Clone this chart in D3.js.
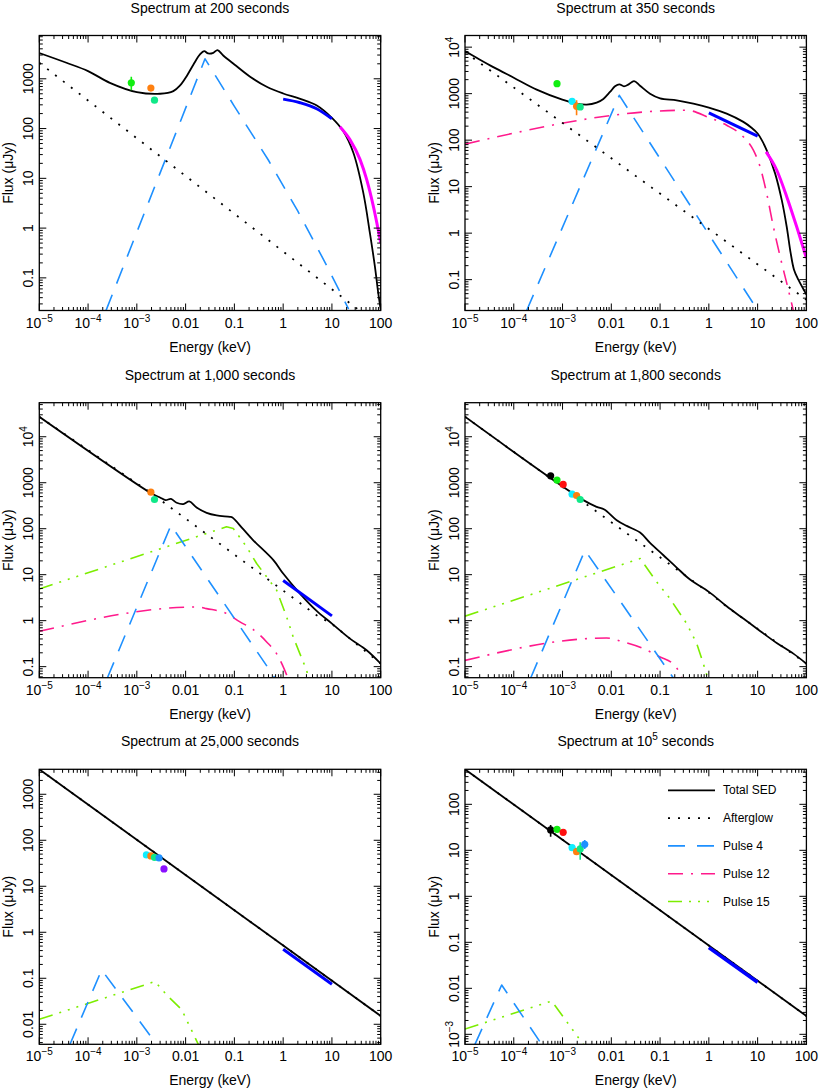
<!DOCTYPE html>
<html>
<head>
<meta charset="utf-8">
<script src="https://cdn.jsdelivr.net/npm/d3@7"></script>
<style>
  body { margin: 0; background: #fff; }
  svg text { font-family: "Liberation Sans", Arial, Helvetica, sans-serif; fill: #000; }
</style>
</head>
<body>
<div id="chart"></div>
<script>
// optical / NIR bands, their energy (keV)
const bands = ['K', 'H', 'J', 'I', 'R', 'V', 'B', 'U'];
const bandEnergy = [5.7e-4, 7.7e-4, 1.03e-3, 1.57e-3, 1.94e-3, 2.3e-3, 2.85e-3, 3.6e-3];

const xTicks = [1e-5, 1e-4, 1e-3, 0.01, 0.1, 1, 10, 100];
const legendNames = ['Total SED', 'Afterglow', 'Pulse 4', 'Pulse 12', 'Pulse 15'];

// ---- 200 s ----
const yRange200 = [0.0221, 7410];
const yTicks200 = [0.1, 1, 10, 100, 1000];
const total200 = [[1e-5, 3300], [3.6e-5, 2100], [1e-4, 1430], [2.8e-4, 830], [1e-3, 540], [3e-3, 500],
  [5.6e-3, 565], [7.7e-3, 735], [0.0105, 1130], [0.0145, 1940], [0.0197, 3080], [0.024, 3600],
  [0.029, 3230], [0.037, 3330], [0.045, 3770], [0.059, 2940], [0.1, 1940], [0.21, 1100], [0.46, 690],
  [1, 507], [2.24, 396], [4.9, 291], [10, 164], [17, 89], [27.5, 32.6], [44, 5.1], [60, 0.8],
  [76, 0.17], [89, 0.05], [100, 0.023]];
const afterglow200 = [[1e-5, 2100], [100, 0.0103]];
const pulse4_200 = [[2.33e-4, 0.022], [0.025, 2520], [0.1, 280], [0.5, 23.1], [2, 2.19], [8, 0.169], [22, 0.0235]];
const xrt200 = [[1, 390], [2.23, 330], [4.87, 250], [10, 157]];
const bat200 = [[14.6, 109], [23.4, 60], [37.6, 24], [51.5, 9.5], [70.6, 2.76], [100, 0.51]];
const optical200 = [['H', 830, 590, 1100], ['R', 650], ['V', 372, 330, 420]];

// ---- 350 s ----
const yRange350 = [0.0217, 17800];
const yTicks350 = [0.1, 1, 10, 100, 1000, 1e4];
const total350 = [[1e-5, 8200], [1.73e-5, 5900], [3.81e-5, 3720], [1e-4, 2200], [2.95e-4, 1220],
  [9.9e-4, 743], [1.95e-3, 611], [3.13e-3, 581], [5e-3, 641], [6.87e-3, 769], [9.4e-3, 1086],
  [0.0119, 1436], [0.0146, 1585], [0.0182, 1436], [0.0227, 1585], [0.0292, 1866], [0.0388, 1483],
  [0.0622, 1000], [0.1, 794], [0.219, 719], [0.481, 611], [1, 501], [2.32, 372], [5.09, 247],
  [7.5, 185], [10, 139], [12.5, 95], [15.3, 61], [22.8, 19.3], [31.2, 5.18], [39.4, 1.39], [47.6, 0.372],
  [55.7, 0.164], [68.4, 0.1], [100, 0.048]];
const afterglow350 = [[1e-5, 7800], [100, 0.037]];
const pulse4_350 = [[1.84e-4, 0.0217], [0.0146, 920], [10, 0.022]];
const pulse12_350 = [[1e-5, 82], [0.35, 440], [1, 306], [2.32, 209], [5.09, 118], [8.18, 61],
  [11.2, 27], [15.3, 7.2], [21, 1.39], [28.8, 0.32], [39.4, 0.085], [54, 0.0217]];
const xrt350 = [[1, 385], [10, 122]];
const bat350 = [[14.9, 56], [24.6, 22.8], [39.5, 6.1], [63, 1.39], [100, 0.29]];
const optical350 = [['H', 1640], ['I', 685], ['R', 535, 343, 720], ['V', 518]];

// ---- 1,000 s ----
const yRange1000 = [0.0575, 55000];
const yTicks1000 = [0.1, 1, 10, 100, 1000, 1e4];
const total1000 = [[1e-5, 27200], [2.01e-3, 583], [2.98e-3, 478], [3.89e-3, 418], [5.01e-3, 447],
  [6.55e-3, 366], [8.97e-3, 342], [0.0119, 391], [0.0168, 289], [0.027, 221], [0.0432, 194],
  [0.0813, 181], [0.0912, 175], [0.15, 99], [0.244, 56], [0.631, 20.7], [1, 10.6], [2.21, 3.88],
  [4.86, 1.63], [10, 0.863], [23.4, 0.407], [51.5, 0.227], [100, 0.116]];
const afterglow1000 = [[1e-5, 27200], [2.01e-3, 583], [4.86, 1.31], [10, 0.85], [100, 0.116]];
const pulse4_1000 = [[2.48e-4, 0.0566], [5.01e-3, 119], [0.68, 0.0566]];
const pulse12_1000 = [[1e-5, 0.587], [0.018, 1.99], [0.027, 1.83], [0.0693, 1.43], [0.13, 0.94],
  [0.244, 0.64], [0.459, 0.345], [0.736, 0.19], [1, 0.1], [1.25, 0.0566]];
const pulse15_1000 = [[1e-5, 4.9], [0.069, 110], [0.095, 101], [0.179, 40], [0.286, 17.5],
  [0.736, 4.6], [1.18, 1.2], [1.61, 0.44], [2.21, 0.19], [3.03, 0.083], [3.3, 0.0575]];
const xrt1000 = [[1, 7.45], [10, 1.27]];
const optical1000 = [['R', 624], ['V', 432]];

// ---- 1,800 s ----
const yRange1800 = [0.0575, 55000];
const yTicks1800 = [0.1, 1, 10, 100, 1000, 1e4];
const total1800 = [[1e-5, 27200], [2.67e-3, 418], [5.01e-3, 299], [7.19e-3, 262], [0.0129, 153],
  [0.0207, 115], [0.0389, 82.6], [0.0622, 49.2], [0.117, 26.5], [0.219, 14.3], [0.411, 7.83],
  [1, 4.23], [2.32, 2.06], [5.09, 1.11], [11.2, 0.598], [24.6, 0.327], [54.1, 0.192], [100, 0.116]];
const afterglow1800 = [[1e-5, 27200], [1, 4.1], [2.32, 2.02], [100, 0.116]];
const pulse4_1800 = [[2.22e-4, 0.0566], [2.88e-3, 34], [0.187, 0.0566]];
const pulse12_1800 = [[1e-5, 0.137], [8e-3, 0.42], [0.0177, 0.344], [0.0454, 0.247], [0.0998, 0.162],
  [0.187, 0.112], [0.256, 0.07], [0.277, 0.0566]];
const pulse15_1800 = [[1e-5, 1.25], [0.039, 22.4], [0.085, 7], [0.16, 3.0], [0.352, 0.86],
  [0.562, 0.32], [0.771, 0.116], [0.946, 0.0566]];
const optical1800 = [['K', 1415], ['H', 1140], ['J', 917], ['I', 565], ['R', 528], ['V', 432]];

// ---- 25,000 s ----
const yRange25k = [0.00367, 3490];
const yTicks25k = [0.01, 0.1, 1, 10, 100, 1000];
const total25k = [[1e-5, 3490], [100, 0.0152]];
const afterglow25k = [[1e-5, 3490], [100, 0.0152]];
const pulse4_25k = [[4.26e-5, 0.00367], [1.9e-4, 0.152], [2.55e-3, 0.00367]];
const pulse15_25k = [[1e-5, 0.0128], [2.35e-3, 0.085], [4.08e-3, 0.0435], [8.3e-3, 0.0208], [0.0182, 0.00367]];
const xrt25k = [[1, 0.427], [10, 0.074]];
const optical25k = [['I', 48], ['R', 45.6], ['V', 42.6], ['B', 41.3], ['U', 23.8]];

// ---- 1e5 s ----
const yRange1e5 = [6.07e-4, 577];
const yTicks1e5 = [1e-3, 0.01, 0.1, 1, 10, 100];
const total1e5 = [[1e-5, 577], [100, 0.0025]];
const afterglow1e5 = [[1e-5, 577], [100, 0.0025]];
const pulse4_1e5 = [[1.6e-5, 6.07e-4], [5.65e-5, 0.0118], [3.73e-4, 6.07e-4]];
const pulse15_1e5 = [[1e-5, 1.3e-3], [6e-4, 5.3e-3], [2.65e-3, 6.07e-4]];
const xrt1e5 = [[1, 0.0766], [10, 0.0135]];
const optical1e5 = [['K', 27.7, 19.8, 35.6], ['H', 28.6], ['J', 24.6], ['I', 11.4], ['R', 9.35],
  ['V', 10.7, 6.2, 14.9], ['B', 13.5, 10.7, 16.8]];

// styles
const bandColor = { K: '#000000', H: '#11ee11', J: '#ff1010', I: '#10eeff', R: '#ff8010', V: '#10e888', B: '#1e90ff', U: '#8a10ff' };
const styles = {
  total: { color: '#000', width: 1.8, dash: null },
  afterglow: { color: '#000', width: 1.8, dash: '2 8' },
  pulse4: { color: '#1e90ff', width: 1.6, dash: '17 12' },
  pulse12: { color: '#ff1a8c', width: 1.6, dash: '15 8 2 8' },
  pulse15: { color: '#7ced00', width: 1.6, dash: '14 7 2 7 2 7 2 7' }
};

const panels = [
  { title: ['Spectrum at 200 seconds'], yRange: yRange200, yTicks: yTicks200, total: total200,
    afterglow: afterglow200, pulse4: pulse4_200, xrt: xrt200, bat: bat200, optical: optical200 },
  { title: ['Spectrum at 350 seconds'], yRange: yRange350, yTicks: yTicks350, total: total350,
    afterglow: afterglow350, pulse4: pulse4_350, pulse12: pulse12_350, xrt: xrt350, bat: bat350, optical: optical350 },
  { title: ['Spectrum at 1,000 seconds'], yRange: yRange1000, yTicks: yTicks1000, total: total1000,
    afterglow: afterglow1000, pulse4: pulse4_1000, pulse12: pulse12_1000, pulse15: pulse15_1000,
    xrt: xrt1000, optical: optical1000 },
  { title: ['Spectrum at 1,800 seconds'], yRange: yRange1800, yTicks: yTicks1800, total: total1800,
    afterglow: afterglow1800, pulse4: pulse4_1800, pulse12: pulse12_1800, pulse15: pulse15_1800,
    optical: optical1800 },
  { title: ['Spectrum at 25,000 seconds'], yRange: yRange25k, yTicks: yTicks25k, total: total25k,
    afterglow: afterglow25k, pulse4: pulse4_25k, pulse15: pulse15_25k, xrt: xrt25k, optical: optical25k },
  { title: ['Spectrum at 10', '5', ' seconds'], yRange: yRange1e5, yTicks: yTicks1e5, total: total1e5,
    afterglow: afterglow1e5, pulse4: pulse4_1e5, pulse15: pulse15_1e5, xrt: xrt1e5, optical: optical1e5,
    legend: true }
];

const width = 819, height = 1090;
const colLeft = [39.3, 465];
const rowTop = [35.5, 402.7, 769.3];
const pw = 341.4, ph = 275;

const svg = d3.select('#chart').append('svg')
  .attr('width', width)
  .attr('height', height);

// writes 10^n style labels with a superscript
function tickText(sel, v) {
  const e = Math.round(Math.log10(v));
  if (v < 0.01 || v >= 1e4) {
    sel.append('tspan').text('10');
    sel.append('tspan').attr('dy', -6).style('font-size', '10px').text(e < 0 ? '\u2212' + (-e) : e);
  } else {
    sel.text(String(v));
  }
}

panels.forEach((p, i) => {
  const left = colLeft[i % 2], top = rowTop[Math.floor(i / 2)];
  const x = d3.scaleLog().domain([1e-5, 100]).range([left, left + pw]);
  const y = d3.scaleLog().domain(p.yRange).range([top + ph, top]);
  const g = svg.append('g');

  g.append('clipPath').attr('id', 'clip' + i)
    .append('rect').attr('x', left).attr('y', top).attr('width', pw).attr('height', ph);

  const plot = g.append('g').attr('clip-path', 'url(#clip' + i + ')');
  const line = curve => d3.line().x(d => x(d[0])).y(d => y(d[1])).curve(curve);

  // model components
  [['pulse12', d3.curveMonotoneX], ['pulse15', d3.curveLinear], ['pulse4', d3.curveLinear],
   ['afterglow', d3.curveLinear], ['total', d3.curveCatmullRom.alpha(0.5)]].forEach(([k, c]) => {
    if (!p[k]) return;
    const s = styles[k];
    plot.append('path')
      .datum(p[k])
      .attr('d', line(c))
      .attr('fill', 'none')
      .attr('stroke', s.color)
      .attr('stroke-width', s.width)
      .attr('stroke-dasharray', s.dash)
      .attr('stroke-linejoin', 'round');
  });

  // X-ray and hard X-ray spectra
  if (p.xrt) {
    plot.append('path').datum(p.xrt).attr('d', line(d3.curveMonotoneX))
      .attr('fill', 'none').attr('stroke', '#0000ff').attr('stroke-width', i === 5 ? 3.6 : 3);
  }
  if (p.bat) {
    plot.append('path').datum(p.bat).attr('d', line(d3.curveMonotoneX))
      .attr('fill', 'none').attr('stroke', '#ff00ff').attr('stroke-width', 3);
  }

  // optical points
  p.optical.forEach(d => {
    const e = bandEnergy[bands.indexOf(d[0])];
    const col = bandColor[d[0]];
    if (d[2]) {
      plot.append('line')
        .attr('x1', x(e)).attr('x2', x(e))
        .attr('y1', y(d[2])).attr('y2', y(d[3]))
        .attr('stroke', col).attr('stroke-width', 1.6);
    }
    plot.append('circle')
      .attr('cx', x(e)).attr('cy', y(d[1])).attr('r', 3.6)
      .attr('fill', col);
  });

  // frame and ticks
  g.append('rect')
    .attr('x', left).attr('y', top).attr('width', pw).attr('height', ph)
    .attr('fill', 'none').attr('stroke', '#000').attr('stroke-width', 1.3);

  const minorTicks = scale => {
    const dom = scale.domain();
    const out = [];
    for (let d = Math.floor(Math.log10(dom[0])); d <= Math.ceil(Math.log10(dom[1])); d++) {
      for (let k = 1; k <= 9; k++) {
        const v = k * Math.pow(10, d);
        if (v >= dom[0] * 0.999 && v <= dom[1] * 1.001) out.push({ v: v, major: k === 1 });
      }
    }
    return out;
  };
  const tk = g.append('g').attr('stroke', '#000').attr('stroke-width', 1);
  minorTicks(x).forEach(t => {
    const len = t.major ? 7 : 3.5;
    const xx = x(t.v);
    tk.append('line').attr('x1', xx).attr('x2', xx).attr('y1', top + ph).attr('y2', top + ph - len);
    tk.append('line').attr('x1', xx).attr('x2', xx).attr('y1', top).attr('y2', top + len);
  });
  minorTicks(y).forEach(t => {
    const len = t.major ? 7 : 3.5;
    const yy = y(t.v);
    tk.append('line').attr('y1', yy).attr('y2', yy).attr('x1', left).attr('x2', left + len);
    tk.append('line').attr('y1', yy).attr('y2', yy).attr('x1', left + pw).attr('x2', left + pw - len);
  });

  // tick labels
  xTicks.forEach(v => {
    g.append('text')
      .attr('x', x(v)).attr('y', top + ph + 17)
      .attr('text-anchor', 'middle')
      .style('font-size', '14px')
      .call(tickText, v);
  });
  p.yTicks.forEach(v => {
    g.append('text')
      .attr('transform', `translate(${left - 6},${y(v)}) rotate(-90)`)
      .attr('text-anchor', 'middle')
      .style('font-size', '14px')
      .call(tickText, v);
  });

  // axis titles
  g.append('text')
    .attr('x', left + pw / 2).attr('y', top + ph + 41)
    .attr('text-anchor', 'middle').style('font-size', '14px')
    .text('Energy (keV)');
  g.append('text')
    .attr('transform', `translate(${left - 26},${top + ph / 2}) rotate(-90)`)
    .attr('text-anchor', 'middle').style('font-size', '14px')
    .text('Flux (\u03bcJy)');

  const title = g.append('text')
    .attr('x', left + pw / 2).attr('y', top - 23)
    .attr('text-anchor', 'middle').style('font-size', '14px');
  title.append('tspan').text(p.title[0]);
  if (p.title.length > 1) {
    title.append('tspan').attr('dy', -6).style('font-size', '10px').text(p.title[1]);
    title.append('tspan').attr('dy', 6).text(p.title[2]);
  }

  // legend
  if (p.legend) {
    const keys = ['total', 'afterglow', 'pulse4', 'pulse12', 'pulse15'];
    keys.forEach((k, j) => {
      const s = styles[k];
      const ly = top + 21 + j * 27.8;
      g.append('line')
        .attr('x1', left + 203).attr('x2', left + 250)
        .attr('y1', ly).attr('y2', ly)
        .attr('stroke', s.color).attr('stroke-width', s.width)
        .attr('stroke-dasharray', s.dash);
      g.append('text')
        .attr('x', left + 258).attr('y', ly + 4)
        .style('font-size', '12px')
        .text(legendNames[j]);
    });
  }
});
</script>
</body>
</html>
